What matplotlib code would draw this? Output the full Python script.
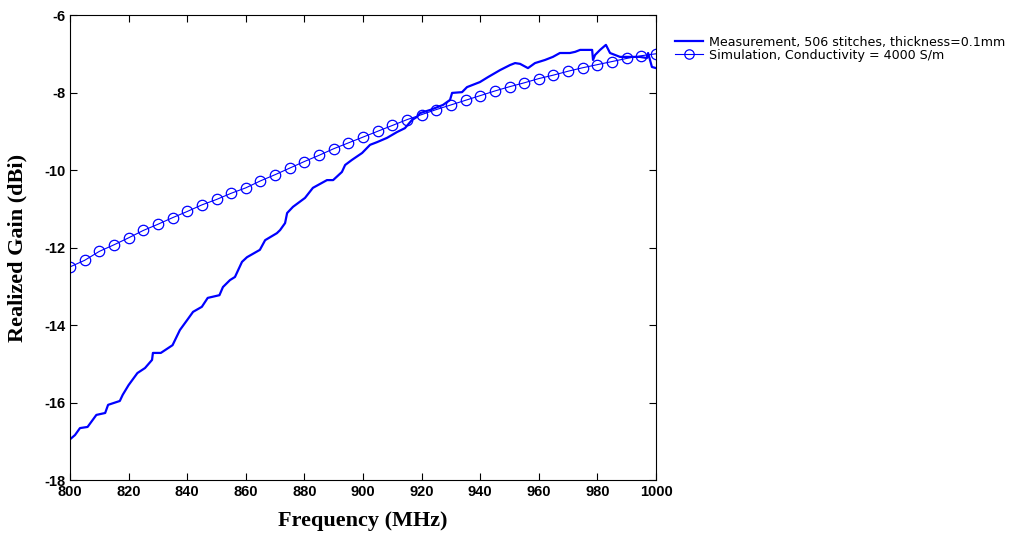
import numpy as np
import matplotlib
matplotlib.use("Agg")
import matplotlib.pyplot as plt

meas_freq = [800, 801.7, 803.4, 806, 809, 812, 813, 817, 818, 820, 823, 825.6, 828, 828.3,
             831, 835, 837.5, 840, 842, 845, 847, 851, 852.2, 854.6, 856.3, 858.7, 860.4,
             864.8, 866.6, 870.6, 871.7, 873.4, 874.1, 876.1, 880.2, 882.9, 887.7, 889.8,
             892.8, 893.9, 896.2, 899.7, 902.4, 904.8, 908.2, 911.6, 914.3, 916.7, 918.4,
             919.5, 922.9, 927.3, 929.7, 930.4, 933.8, 935.5, 939.9, 942.7, 946.8, 950.2,
             951.9, 953.6, 956.3, 958.7, 962.1, 964.8, 967.2, 970.6, 972.4, 974.1, 978.2,
             978.5, 979.2, 980.9, 982.9, 984.3, 987.7, 991.1, 994.5, 996.9, 997.3, 998.6, 1000]
meas_gain = [-16.95, -16.84, -16.66, -16.63, -16.32, -16.27, -16.06, -15.96, -15.8, -15.55,
             -15.24, -15.11, -14.9, -14.72, -14.72, -14.52, -14.13, -13.87, -13.66, -13.53,
             -13.3, -13.23, -13.02, -12.84, -12.76, -12.37, -12.25, -12.06, -11.81, -11.63,
             -11.55, -11.37, -11.11, -10.95, -10.72, -10.46, -10.26, -10.26, -10.05, -9.87,
             -9.74, -9.56, -9.35, -9.28, -9.17, -9.02, -8.92, -8.71, -8.63, -8.53, -8.45,
             -8.32, -8.19, -8.01, -7.99, -7.86, -7.73, -7.6, -7.42, -7.29, -7.24, -7.26,
             -7.37, -7.24, -7.16, -7.08, -6.98, -6.98, -6.95, -6.9, -6.9, -7.16, -7.03,
             -6.9, -6.77, -6.98, -7.08, -7.08, -7.08, -7.11, -6.98, -7.34, -7.37]

# simulated gain, every 5 MHz
sim_freq = list(range(800, 1001, 5))
sim_gain = [-12.5, -12.33, -12.1, -11.93, -11.75, -11.56, -11.4, -11.23, -11.07, -10.9,
            -10.76, -10.6, -10.46, -10.28, -10.12, -9.95, -9.78, -9.62, -9.45, -9.3,
            -9.15, -9.0, -8.85, -8.7, -8.57, -8.44, -8.32, -8.2, -8.08, -7.96,
            -7.85, -7.75, -7.64, -7.55, -7.45, -7.36, -7.28, -7.2, -7.12, -7.05, -7.0]

plt.rcParams['axes.unicode_minus'] = False

fig = plt.figure(figsize=(10.13, 5.33), dpi=100)
ax = fig.add_axes([0.0691, 0.0994, 0.5785, 0.8724])

ax.plot(meas_freq, meas_gain, color='#0000ff', linewidth=1.6,
        label='Measurement, 506 stitches, thickness=0.1mm')
ax.plot(sim_freq, sim_gain, color='#0000ff', linewidth=0.8, marker='o',
        markersize=7.5, markerfacecolor='none', markeredgewidth=0.9,
        label='Simulation, Conductivity = 4000 S/m')

ax.set_xlim(800, 1000)
ax.set_ylim(-18, -6)
ax.set_xticks(np.arange(800, 1001, 20))
ax.set_yticks(np.arange(-18, -5, 2))
ax.tick_params(direction='in', length=5, top=True, right=True, width=0.8)
for lab in ax.get_xticklabels() + ax.get_yticklabels():
    lab.set_fontfamily('Liberation Sans')
    lab.set_fontweight('bold')
    lab.set_fontsize(10.5)
for sp in ax.spines.values():
    sp.set_linewidth(0.8)

ax.set_xlabel('Frequency (MHz)', fontfamily='Liberation Serif', fontweight='bold',
              fontsize=16, labelpad=9)
ax.set_ylabel('Realized Gain (dBi)', fontfamily='Liberation Serif', fontweight='bold',
              fontsize=16, labelpad=12)

fig.legend(loc='upper left', bbox_to_anchor=(0.660, 0.945), frameon=False,
           prop={'family': 'DejaVu Sans', 'size': 9.1}, handlelength=2.2,
           handletextpad=0.5, labelspacing=0.0, borderpad=0, markerscale=0.9)

fig.savefig('out.png', dpi=100)
